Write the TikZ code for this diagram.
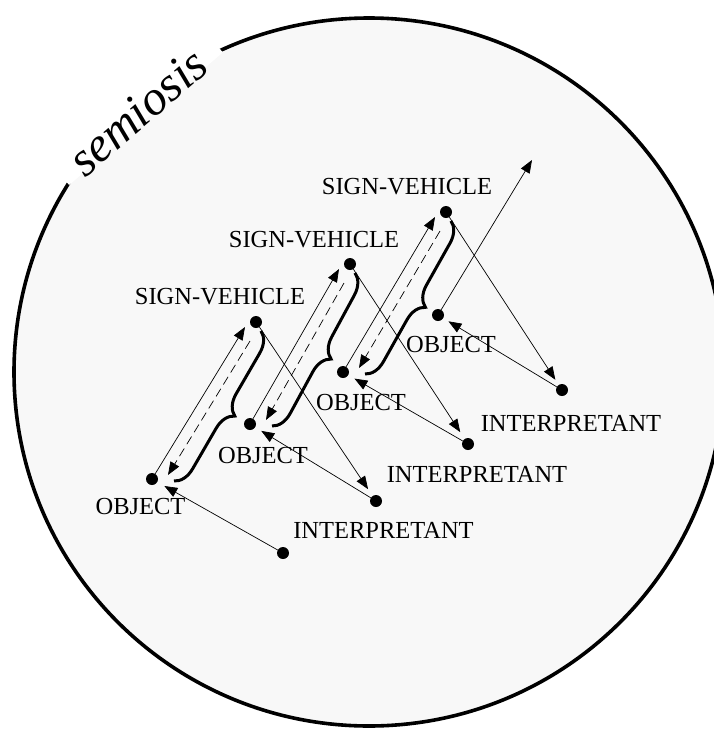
\documentclass[tikz,border=0pt]{standalone}
\usepackage{fontspec}
\setmainfont{Liberation Serif}
\usetikzlibrary{arrows.meta,positioning,decorations.pathreplacing}
\definecolor{disc}{HTML}{F8F8F8}

\begin{document}
\begin{tikzpicture}[
 x=1pt,y=-1pt,
 dot/.style={circle,fill=black,inner sep=0pt,minimum size=12pt},
 lbl/.style={inner sep=0pt,text height=16pt,text depth=0pt,font=\fontsize{24.5}{28}\selectfont},
 link/.style={-{Triangle[length=13pt,width=10pt]},line width=0.7pt},
 back/.style={link,dash pattern=on 9pt off 5pt},
 grip/.style={decorate,decoration={brace,amplitude=20pt},line width=3pt}
]
\useasboundingbox (0,0) rectangle (714,729);
\draw[line width=3.6pt,fill=disc] (369,372) ellipse [x radius=355,y radius=354];
\node[rotate=40.8,fill=white,minimum width=203pt,minimum height=52pt,inner sep=0pt] (title) at (129,99) {};
\node[rotate=40.8,anchor=base,inner sep=0pt,font=\fontsize{49}{56}\selectfont\itshape] (word) at ([shift={(2,5)}]title.south) {semiosis};

% dots
\node[dot] (sv1) at (256,322) {};
\node[dot] (sv2) at (350,264) {};
\node[dot] (sv3) at (446,212) {};
\node[dot] (o1) at (152,479) {};
\node[dot] (o2) at (250,424) {};
\node[dot] (o3) at (343,372) {};
\node[dot] (o4) at (438,315) {};
\node[dot] (i1) at (283,553) {};
\node[dot] (i2) at (376,501) {};
\node[dot] (i3) at (468,444) {};
\node[dot] (i4) at (562,390) {};
\coordinate (next) at (532,160);

% labels
\node[lbl,above=11pt of sv1,xshift=-36pt] (sv1l) {SIGN-VEHICLE};
\node[lbl,above=10pt of sv2,xshift=-36pt] (sv2l) {SIGN-VEHICLE};
\node[lbl,above=11pt of sv3,xshift=-39pt] (sv3l) {SIGN-VEHICLE};
\node[lbl,below=13.5pt of o1,xshift=-11.5pt] (o1l) {OBJECT};
\node[lbl,below=17.5pt of o2,xshift=13pt] (o2l) {OBJECT};
\node[lbl,below=16pt of o3,xshift=18pt] (o3l) {OBJECT};
\node[lbl,below=15pt of o4,xshift=13pt] (o4l) {OBJECT};
\node[lbl,below=15pt of i2,xshift=7.5pt] (i2l) {INTERPRETANT};
\node[lbl,below=16.5pt of i3,xshift=9pt] (i3l) {INTERPRETANT};
\node[lbl,below=19.5pt of i4,xshift=9pt] (i4l) {INTERPRETANT};

% first triad
\draw[link] (o1) -- ([shift={(-11,5)}]sv1.center);
\draw[back] ([shift={(-6,19)}]sv1.center) -- ([shift={(16,-4)}]o1.center);
\draw[grip] ([shift={(5,9)}]sv1.center) -- ([shift={(22,2)}]o1.center);
\draw[link,shorten >=8pt] (sv1) -- (i2);
\draw[link,shorten >=8pt] (i1) -- (o1);

% second triad
\draw[link] (o2) -- ([shift={(-11,5)}]sv2.center);
\draw[back] ([shift={(-6,19)}]sv2.center) -- ([shift={(16,-4)}]o2.center);
\draw[grip] ([shift={(5,9)}]sv2.center) -- ([shift={(22,2)}]o2.center);
\draw[link,shorten >=8pt] (sv2) -- (i3);
\draw[link,shorten >=7pt] (i2) -- (o2);

% third triad
\draw[link] (o3) -- ([shift={(-11,5)}]sv3.center);
\draw[back] ([shift={(-6,19)}]sv3.center) -- ([shift={(16,-4)}]o3.center);
\draw[grip] ([shift={(5,9)}]sv3.center) -- ([shift={(22,2)}]o3.center);
\draw[link,shorten >=6pt] (sv3) -- (i4);
\draw[link,shorten >=7pt] (i3) -- (o3);

% onward
\draw[link,shorten >=6pt] (i4) -- (o4);
\draw[link] (o4) -- (next);
\end{tikzpicture}
\end{document}
